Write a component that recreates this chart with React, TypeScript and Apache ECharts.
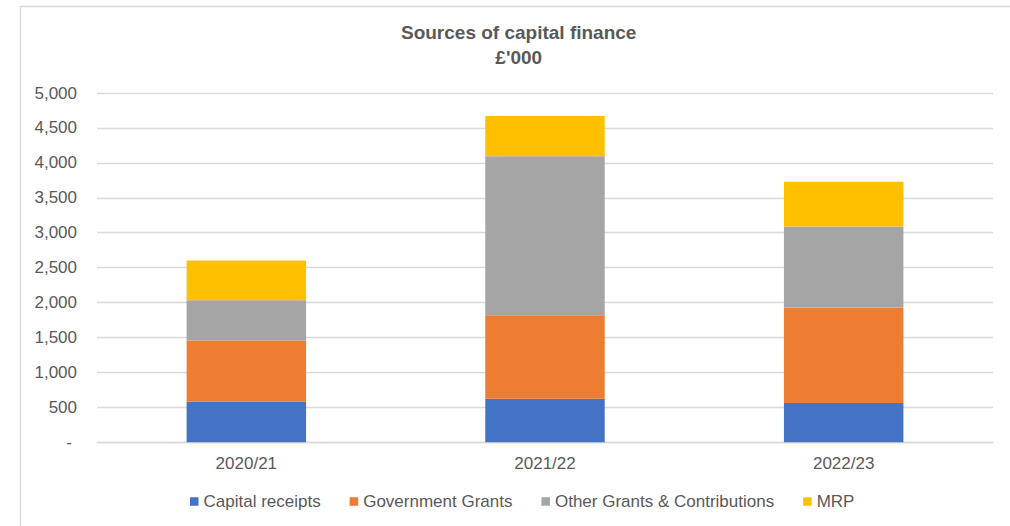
import React, { useEffect, useRef } from "react";
import * as echarts from "echarts";

const categories = ["2020/21", "2021/22", "2022/23"];
const capitalReceipts = [580, 623, 561];
const governmentGrants = [877, 1196, 1368];
const otherGrants = [576, 2275, 1161];
const mrp = [571, 577, 639];
const seriesNames = ["Capital receipts", "Government Grants", "Other Grants & Contributions", "MRP"];
const seriesColors = ["#4472c4", "#ed7d31", "#a5a5a5", "#ffc000"];

const FONT = '"Liberation Sans", Arial, sans-serif';
const TEXT = "#595959";

export default function App() {
  const ref = useRef<HTMLDivElement>(null);
  useEffect(() => {
    if (!ref.current) return;
    const chart = echarts.init(ref.current, undefined, { renderer: "svg" });
    const values = [capitalReceipts, governmentGrants, otherGrants, mrp];
    chart.setOption({
      animation: false,
      backgroundColor: "#ffffff",
      textStyle: { fontFamily: FONT },
      title: {
        text: "Sources of capital finance\n£'000",
        left: 513.7,
        top: 15,
        textAlign: "center",
        textStyle: {
          fontFamily: FONT,
          fontSize: 19,
          fontWeight: "bold",
          color: TEXT,
          lineHeight: 25,
        },
      },
      graphic: [
        { type: "line", shape: { x1: 20.5, y1: 6, x2: 20.5, y2: 526 }, style: { stroke: "#d9d9d9", lineWidth: 1.3 }, silent: true },
        { type: "line", shape: { x1: 20, y1: 6.5, x2: 1010, y2: 6.5 }, style: { stroke: "#d9d9d9", lineWidth: 1.3 }, silent: true },
      ],
      legend: {
        left: 190,
        top: 493,
        padding: 0,
        itemWidth: 8.5,
        itemHeight: 8.5,
        itemGap: 29,
        icon: "rect",
        textStyle: { fontFamily: FONT, fontSize: 17, color: TEXT },
        data: seriesNames,
      },
      grid: { left: 97, right: 17, top: 93, height: 349.3, containLabel: false },
      xAxis: {
        type: "category",
        data: categories,
        axisLine: { lineStyle: { color: "#d9d9d9", width: 1.3 } },
        axisTick: { show: false },
        axisLabel: { fontFamily: FONT, fontSize: 17, color: TEXT, margin: 13 },
      },
      yAxis: {
        type: "value",
        min: 0,
        max: 5000,
        interval: 500,
        axisLine: { show: false },
        axisTick: { show: false },
        splitLine: { lineStyle: { color: "#d9d9d9", width: 1.3 } },
        axisLabel: {
          fontFamily: FONT,
          fontSize: 17,
          color: TEXT,
          margin: 20,
          formatter: (v: number) => (v === 0 ? "{d|-}" : v.toLocaleString("en-US")),
          rich: { d: { fontFamily: FONT, fontSize: 17, color: TEXT, padding: [0, 5, 0, 0] } },
        },
      },
      series: seriesNames.map((name, i) => ({
        name,
        type: "bar",
        stack: "total",
        barWidth: "40%",
        data: values[i],
        itemStyle: { color: seriesColors[i] },
      })),
    });
    return () => chart.dispose();
  }, []);
  return (
    <div
      ref={ref}
      style={{ position: "absolute", left: 0, top: 0, width: 1010, height: 526 }}
    />
  );
}
